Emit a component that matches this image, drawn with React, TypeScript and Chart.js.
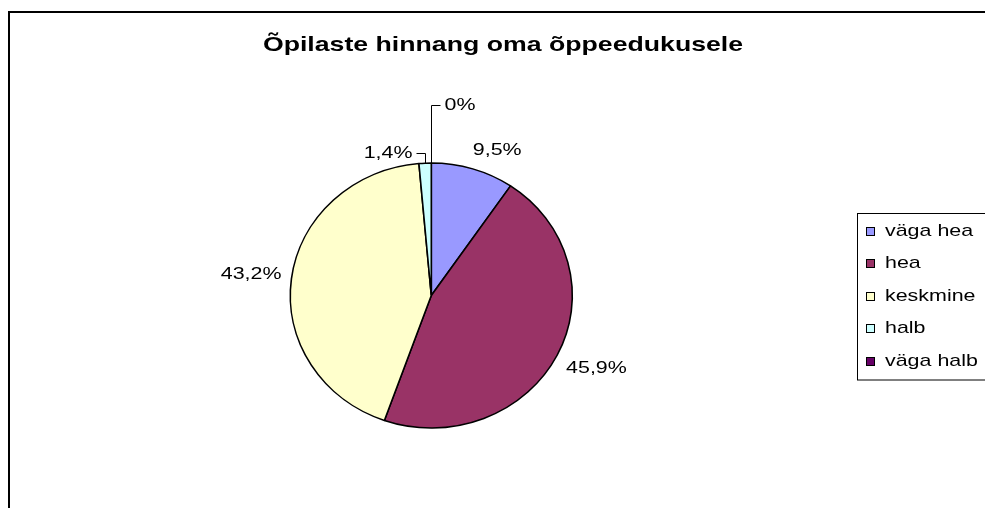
import React, { useEffect, useRef } from "react";
import { Chart, registerables } from "chart.js";

Chart.register(...registerables);

const TITLE = "Õpilaste hinnang oma õppeedukusele";
const CATEGORIES = ["väga hea", "hea", "keskmine", "halb", "väga halb"];
const PERCENTS = [9.5, 45.9, 43.2, 1.4, 0];
const COLORS = ["#9999FF", "#993366", "#FFFFCC", "#CCFFFF", "#660066"];

const W = 985;
const H = 508;
const CX = 431.3;
const CY = 295.5;
const RY = 132.5;
const RX = 141;
const SX = RX / RY;
const FONT = '"Liberation Sans", Arial, sans-serif';
const TEXT_SX = 1.26;
const LABEL_PX = 17;

function fmt(v: number): string {
  return v === 0 ? "0%" : v.toFixed(1).replace(".", ",") + "%";
}

function clamp(v: number): number {
  return Math.max(-1, Math.min(1, v));
}

function drawText(
  ctx: CanvasRenderingContext2D,
  text: string,
  x: number,
  y: number,
  font: string,
  align: CanvasTextAlign,
  sx: number,
  baseline: CanvasTextBaseline = "middle"
) {
  ctx.save();
  ctx.font = font;
  ctx.textBaseline = baseline;
  ctx.textAlign = align;
  ctx.translate(x, y);
  ctx.scale(sx, 1);
  ctx.fillStyle = "#000";
  ctx.fillText(text, 0, 0);
  ctx.restore();
}

const framePlugin = {
  id: "frame",
  beforeDraw(chart: any) {
    const ctx = chart.ctx as CanvasRenderingContext2D;
    ctx.save();
    ctx.fillStyle = "#fff";
    ctx.fillRect(0, 0, W, H);
    ctx.strokeStyle = "#000";
    ctx.lineWidth = 2;
    ctx.strokeRect(9, 12, 1200, 800);
    ctx.restore();
  },
};

const ellipsePlugin = {
  id: "ellipse",
  beforeDatasetsDraw(chart: any) {
    const ctx = chart.ctx as CanvasRenderingContext2D;
    const arc = chart.getDatasetMeta(0).data[0];
    ctx.save();
    ctx.translate(arc.x, arc.y);
    ctx.scale(SX, 1);
    ctx.translate(-arc.x, -arc.y);
  },
  afterDatasetsDraw(chart: any) {
    chart.ctx.restore();
  },
};

const annotatePlugin = {
  id: "annotate",
  afterDraw(chart: any) {
    const ctx = chart.ctx as CanvasRenderingContext2D;
    // Title
    drawText(ctx, TITLE, 503, 51, `bold 21px ${FONT}`, "center", 1.27, "alphabetic");

    // Data labels
    const arcs = chart.getDatasetMeta(0).data;
    const labelFont = `${LABEL_PX}px ${FONT}`;
    let smallCount = 0;
    arcs.forEach((arc: any, i: number) => {
      const mid = (arc.startAngle + arc.endAngle) / 2;
      const r = arc.outerRadius;
      const ux = Math.cos(mid);
      const uy = Math.sin(mid);
      const ex = arc.x + r * SX * ux;
      const ey = arc.y + r * uy;
      const txt = fmt(PERCENTS[i]);
      ctx.font = labelFont;
      const tw = ctx.measureText(txt).width * TEXT_SX;
      if (PERCENTS[i] < 2) {
        const rise = 10 + smallCount * 48;
        smallCount++;
        const dir = PERCENTS[i] === 0 || ux > 0 ? 1 : -1;
        const lx = Math.round(ex) + 0.5;
        const ty = Math.round(ey - rise) + 0.5;
        ctx.save();
        ctx.strokeStyle = "#000";
        ctx.lineWidth = 1;
        ctx.beginPath();
        ctx.moveTo(lx, ey);
        ctx.lineTo(lx, ty);
        ctx.lineTo(lx + dir * 9, ty);
        ctx.stroke();
        ctx.restore();
        drawText(ctx, txt, lx + dir * 13, ty, labelFont, dir > 0 ? "left" : "right", TEXT_SX);
      } else {
        const hw = tw / 2;
        const hh = 8.5;
        const g = 10;
        const cx = ex + g * ux + hw * clamp(ux * 3);
        const cy = ey + g * uy + hh * clamp(uy * 3);
        drawText(ctx, txt, cx, cy, labelFont, "center", TEXT_SX);
      }
    });

    // Legend
    ctx.save();
    ctx.strokeStyle = "#000";
    ctx.lineWidth = 1;
    ctx.strokeRect(857.5, 213.5, 200, 166.5);
    ctx.restore();
    CATEGORIES.forEach((name, i) => {
      const yc = 231 + i * 32.5;
      ctx.save();
      ctx.fillStyle = COLORS[i];
      ctx.fillRect(866, Math.round(yc - 4.5), 9, 9);
      ctx.strokeStyle = "#000";
      ctx.lineWidth = 1;
      ctx.strokeRect(866.5, Math.round(yc - 4.5) + 0.5, 8, 8);
      ctx.restore();
      drawText(ctx, name, 885, yc, labelFont, "left", TEXT_SX);
    });
  },
};

export default function App() {
  const ref = useRef<HTMLCanvasElement>(null);
  useEffect(() => {
    if (!ref.current) return;
    const padLeft = 200;
    const padTop = 150;
    const chart = new Chart(ref.current, {
      type: "pie",
      data: {
        labels: CATEGORIES,
        datasets: [
          {
            data: PERCENTS,
            backgroundColor: COLORS,
            borderColor: "#000",
            borderWidth: 1.5,
            radius: RY,
          } as any,
        ],
      },
      options: {
        responsive: false,
        animation: false,
        devicePixelRatio: 1,
        events: [],
        layout: {
          padding: {
            left: padLeft,
            right: W - (2 * CX - padLeft),
            top: padTop,
            bottom: H - (2 * CY - padTop),
          },
        },
        plugins: {
          legend: { display: false },
          title: { display: false },
          tooltip: { enabled: false },
        },
      },
      plugins: [framePlugin, ellipsePlugin, annotatePlugin],
    });
    return () => chart.destroy();
  }, []);
  return (
    <div style={{ position: "fixed", left: 0, top: 0, width: W, height: H, background: "#fff" }}>
      <canvas ref={ref} width={W} height={H} style={{ display: "block", width: W, height: H }} />
    </div>
  );
}
